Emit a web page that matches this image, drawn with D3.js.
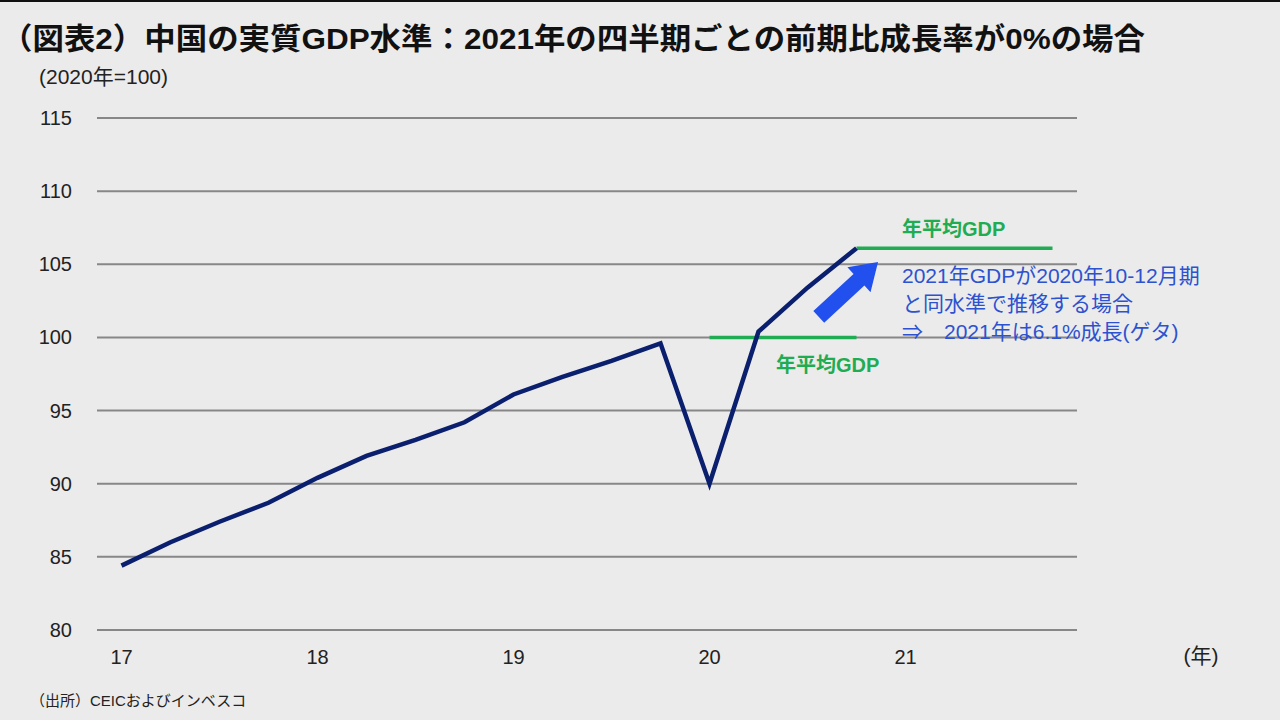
<!DOCTYPE html>
<html>
<head>
<meta charset="utf-8">
<script src="https://cdn.jsdelivr.net/npm/d3@7"></script>
<style>
  body { margin: 0; background: #ebebeb; }
  svg { display: block; }
</style>
</head>
<body>
<div id="chart"></div>
<script>
// quarterly real GDP level, 2020 = 100 (17Q1 .. 20Q4)
var quarters = d3.range(16);
var gdp = [84.4, 86.0, 87.4, 88.7, 90.4, 91.9, 93.0, 94.2,
           96.1, 97.3, 98.4, 99.6, 90.0, 100.4, 103.4, 106.1];
// annual averages: [start quarter, end quarter, value]
var avg2020 = [12, 15, 100.0];
var avg2021 = [15, 19, 106.1];
var yTicks = [80, 85, 90, 95, 100, 105, 110, 115];
var xTickPos = [0, 4, 8, 12, 16];
var xTickLabels = ["17", "18", "19", "20", "21"];

var W = 1280, H = 720;
var jpFont = "'Liberation Sans', Arial, 'Noto Sans CJK JP', sans-serif";

var svg = d3.select("#chart").append("svg")
    .attr("width", W).attr("height", H)
    .style("background", "#ebebeb");

// top border
svg.append("line").attr("x1", 0).attr("x2", W).attr("y1", 1).attr("y2", 1)
    .attr("stroke", "#111").attr("stroke-width", 2);

var x = d3.scaleLinear().domain([-0.5, 19.5]).range([97, 1077]);
var y = d3.scaleLinear().domain([80, 115]).range([630, 118]);

// title
svg.append("text")
    .attr("x", 1).attr("y", 49)
    .attr("font-family", jpFont)
    .attr("font-weight", "bold")
    .attr("font-size", 30)
    .attr("fill", "#111")
    .attr("textLength", 1144)
    .attr("lengthAdjust", "spacingAndGlyphs")
    .text("（図表2）中国の実質GDP水準：2021年の四半期ごとの前期比成長率が0%の場合");

svg.append("text")
    .attr("x", 39).attr("y", 84)
    .attr("font-family", jpFont).attr("font-size", 21).attr("fill", "#222")
    .text("(2020年=100)");

// grid lines
svg.append("g").selectAll("line").data(yTicks).enter().append("line")
    .attr("x1", x(-0.5)).attr("x2", x(19.5))
    .attr("y1", function (d) { return y(d); })
    .attr("y2", function (d) { return y(d); })
    .attr("stroke", "#878787").attr("stroke-width", 2);

// y axis labels
svg.append("g").selectAll("text").data(yTicks).enter().append("text")
    .attr("x", 72)
    .attr("y", function (d) { return y(d) + 7; })
    .attr("text-anchor", "end")
    .attr("font-family", jpFont).attr("font-size", 20).attr("fill", "#222")
    .text(function (d) { return d; });

// x axis labels
svg.append("g").selectAll("text").data(xTickPos).enter().append("text")
    .attr("x", function (d) { return x(d); })
    .attr("y", 664)
    .attr("text-anchor", "middle")
    .attr("font-family", jpFont).attr("font-size", 20).attr("fill", "#222")
    .text(function (d, i) { return xTickLabels[i]; });

svg.append("text")
    .attr("x", 1201).attr("y", 663)
    .attr("text-anchor", "middle")
    .attr("font-family", jpFont).attr("font-size", 21).attr("fill", "#222")
    .text("(年)");

// average lines
var green = "#1fac52";
[avg2020, avg2021].forEach(function (a) {
    svg.append("line")
        .attr("x1", x(a[0])).attr("x2", x(a[1]))
        .attr("y1", y(a[2])).attr("y2", y(a[2]))
        .attr("stroke", green).attr("stroke-width", 3.5);
});

// GDP line
var line = d3.line()
    .x(function (d) { return x(d); })
    .y(function (d, i) { return y(gdp[i]); });

svg.append("path")
    .datum(quarters)
    .attr("d", line)
    .attr("fill", "none")
    .attr("stroke", "#0b1f6f")
    .attr("stroke-width", 4.5)
    .attr("stroke-linejoin", "miter");

// labels for averages
svg.append("text")
    .attr("x", 902).attr("y", 236)
    .attr("font-family", jpFont).attr("font-weight", "bold")
    .attr("font-size", 20).attr("fill", green)
    .text("年平均GDP");
svg.append("text")
    .attr("x", 776).attr("y", 372)
    .attr("font-family", jpFont).attr("font-weight", "bold")
    .attr("font-size", 20).attr("fill", green)
    .text("年平均GDP");

// block arrow
(function () {
    var tail = [x(14.23), y(101.4)], head = [x(15.44), y(105.15)];
    var dx = head[0] - tail[0], dy = head[1] - tail[1];
    var len = Math.sqrt(dx * dx + dy * dy);
    var ux = dx / len, uy = dy / len, nx = -uy, ny = ux;
    var hw = 8, hh = 17, hl = 26;
    function p(a, b) { return [tail[0] + ux * a + nx * b, tail[1] + uy * a + ny * b]; }
    var pts = [p(0, hw), p(len - hl, hw), p(len - hl, hh), p(len, 0),
               p(len - hl, -hh), p(len - hl, -hw), p(0, -hw)];
    svg.append("polygon")
        .attr("points", pts.map(function (q) { return q.join(","); }).join(" "))
        .attr("fill", "#2150ee");
})();

// annotation text
var note = ["2021年GDPが2020年10-12月期", "と同水準で推移する場合", "⇒　2021年は6.1%成長(ゲタ)"];
svg.append("g").selectAll("text").data(note).enter().append("text")
    .attr("x", 902)
    .attr("y", function (d, i) { return 283 + i * 28; })
    .attr("font-family", jpFont).attr("font-size", 21).attr("fill", "#2d52d0")
    .text(function (d) { return d; });

// source
svg.append("text")
    .attr("x", 30).attr("y", 706)
    .attr("font-family", jpFont).attr("font-size", 15).attr("fill", "#222")
    .text("（出所）CEICおよびインベスコ");
</script>
</body>
</html>
